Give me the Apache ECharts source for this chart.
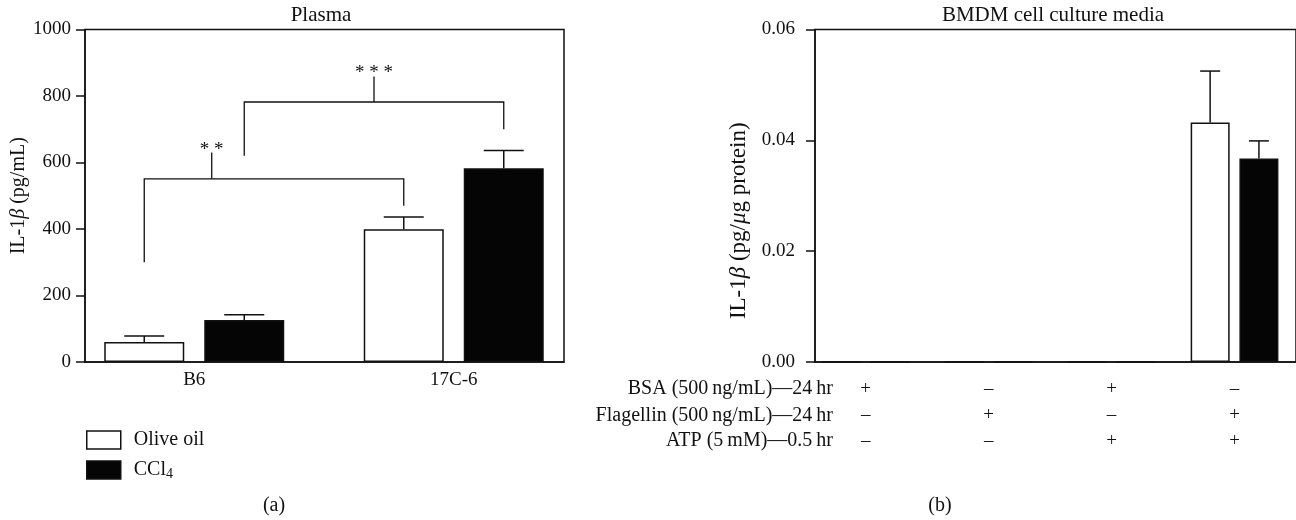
<!DOCTYPE html>
<html>
<head>
<meta charset="utf-8">
<title>IL-1β</title>
<script src="https://cdn.jsdelivr.net/npm/echarts@6/dist/echarts.min.js"></script>
<style>
  * { margin: 0; padding: 0; }
  html, body { background: #fff; }
  #chart { width: 1296px; height: 520px; }
</style>
</head>
<body>
<div id="chart"></div>
<script>
// (a) plasma
const plasmaGroups = ['B6', '17C-6'];
const plasmaOlive = [60, 399];
const plasmaOliveErr = [18, 37];
const plasmaCCl4 = [126, 583];
const plasmaCCl4Err = [16, 53];
// brackets: [fromGroup, fromSide, toGroup, toSide, leftEnd, rightEnd, level, stemTop, stemAt]
const plasmaBrackets = [
    [0, -1, 1, -1, 300, 470, 551, 630, 0.26],
    [0, 1, 1, 1, 620, 700, 782, 859, 0.5]
];
const plasmaBracketLabels = ['* *', '* * *'];

// (b) BMDM media
const mediaColumns = ['BSA', 'Flagellin', 'BSA + ATP', 'Flagellin + ATP'];
const bsaRow = ['+', '–', '+', '–'];
const flagellinRow = ['–', '+', '–', '+'];
const atpRow = ['–', '–', '+', '+'];
const rowTitles = ['BSA (500\u2009ng/mL)—24\u2009hr', 'Flagellin (500\u2009ng/mL)—24\u2009hr', 'ATP (5\u2009mM)—0.5\u2009hr'];
const mediaWhite = [0, 0, 0, 0.0432];
const mediaWhiteErr = [0, 0, 0, 0.0093];
const mediaBlack = [0, 0, 0, 0.0367];
const mediaBlackErr = [0, 0, 0, 0.0032];

const FONT = "'Liberation Serif', 'DejaVu Serif', serif";
const INK = '#111';

function errData(means, errs, side) {
    return means.map((m, i) => [i, m, m + errs[i], side]);
}

function errorBars(half, cap) {
    return function (params, api) {
        const lo = api.value(1), hi = api.value(2);
        if (hi <= lo) return null;
        const a = api.coord([api.value(0), lo]);
        const b = api.coord([api.value(0), hi]);
        const x = a[0] + api.value(3) * half;
        const st = { stroke: INK, lineWidth: 1.5 };
        return {
            type: 'group',
            children: [
                { type: 'line', shape: { x1: x, y1: a[1], x2: x, y2: b[1] }, style: st },
                { type: 'line', shape: { x1: x - cap / 2, y1: b[1], x2: x + cap / 2, y2: b[1] }, style: st }
            ]
        };
    };
}

function bracket(half) {
    return function (params, api) {
        const v = i => api.value(i);
        const pL = api.coord([v(0), v(4)]);
        const pR = api.coord([v(2), v(5)]);
        const yLev = api.coord([v(0), v(6)])[1];
        const yTop = api.coord([v(0), v(7)])[1];
        const xL = pL[0] + v(1) * half;
        const xR = pR[0] + v(3) * half;
        const xS = xL + (xR - xL) * v(8);
        const st = { stroke: INK, lineWidth: 1.3, fill: null };
        return {
            type: 'group',
            children: [
                { type: 'polyline', shape: { points: [[xL, pL[1]], [xL, yLev], [xR, yLev], [xR, pR[1]]] }, style: st },
                { type: 'line', shape: { x1: xS, y1: yLev, x2: xS, y2: yTop }, style: st },
                { type: 'text', style: { text: plasmaBracketLabels[params.dataIndex], x: xS, y: yTop - 3,
                    align: 'center', verticalAlign: 'middle', font: '19px ' + FONT, fill: INK } }
            ]
        };
    };
}

const frameAxisX = gi => ({
    gridIndex: gi, type: 'value', min: 0, max: 1,
    axisLine: { show: true, lineStyle: { color: INK, width: 1.5 } },
    axisTick: { show: false }, axisLabel: { show: false }, splitLine: { show: false }
});
const hiddenY = (gi, max) => ({ gridIndex: gi, type: 'value', min: 0, max: max, show: false });
const nameStyle = (size, pad) => ({
    fontFamily: FONT, fontSize: size, color: INK, padding: pad,
    rich: { i: { fontFamily: FONT, fontSize: size, fontStyle: 'italic', color: INK } }
});
const plainTitle = size => ({ fontFamily: FONT, fontSize: size, fontWeight: 'normal', color: INK });

let chart = echarts.init(document.getElementById('chart'));
let option = {
    backgroundColor: '#fff',
    animation: false,
    textStyle: { fontFamily: FONT, color: INK },
    title: [
        { text: 'Plasma', left: 321, top: 5, textAlign: 'center', padding: 0, textStyle: plainTitle(21) },
        { text: 'BMDM cell culture media', left: 1053, top: 5, textAlign: 'center', padding: 0, textStyle: plainTitle(21) },
        { text: '(a)', left: 274, top: 496, textAlign: 'center', padding: 0, textStyle: plainTitle(20) },
        { text: '(b)', left: 940, top: 496, textAlign: 'center', padding: 0, textStyle: plainTitle(20) }
    ],
    legend: {
        orient: 'vertical', left: 86, top: 430, padding: 0,
        icon: 'rect', itemWidth: 34, itemHeight: 18, itemGap: 10,
        data: ['Olive oil', 'CCl4'],
        itemStyle: { borderColor: INK, borderWidth: 1.5 },
        formatter: name => name === 'CCl4' ? 'CCl{sub|4}' : name,
        textStyle: {
            fontFamily: FONT, fontSize: 20, color: INK, padding: [0, 0, 0, 8],
            rich: { sub: { fontFamily: FONT, fontSize: 14, color: INK, verticalAlign: 'bottom', padding: [8, 0, 0, 0] } }
        }
    },
    grid: [
        { left: 85, top: 29.5, width: 479, height: 332.5, show: true, borderColor: INK, borderWidth: 1.5, backgroundColor: 'transparent' },
        { left: 64.5, top: 29.5, width: 519, height: 332.5 },
        { left: 815, top: 29.5, width: 520, height: 332.5, show: true, borderColor: INK, borderWidth: 1.5, backgroundColor: 'transparent' },
        { left: 804.25, top: 29.5, width: 502, height: 332.5 }
    ],
    xAxis: [
        frameAxisX(0),
        {
            gridIndex: 1, type: 'category', data: plasmaGroups,
            axisLine: { show: false }, axisTick: { show: false },
            axisLabel: { fontFamily: FONT, fontSize: 19, color: INK, margin: 9 }
        },
        frameAxisX(2),
        {
            gridIndex: 3, type: 'category', data: mediaColumns,
            axisLine: { show: false }, axisTick: { show: false },
            axisLabel: {
                interval: 0, fontFamily: FONT, fontSize: 19, color: INK, lineHeight: 26, margin: 14,
                formatter: (val, i) => bsaRow[i] + '\n' + flagellinRow[i] + '\n' + atpRow[i]
            }
        }
    ],
    yAxis: [
        {
            gridIndex: 0, type: 'value', min: 0, max: 1000, interval: 200,
            name: 'IL-1{i|β} (pg/mL)', nameLocation: 'middle', nameGap: 56, nameTextStyle: nameStyle(20, 0),
            axisLine: { show: true, lineStyle: { color: INK, width: 1.5 } },
            axisTick: { show: true, length: 9, lineStyle: { color: INK, width: 1.5 } },
            axisLabel: { fontFamily: FONT, fontSize: 19, color: INK, margin: 14, formatter: v => String(v) },
            splitLine: { show: false }
        },
        hiddenY(1, 1000),
        {
            gridIndex: 2, type: 'value', min: 0, max: 0.06, interval: 0.02,
            name: 'IL-1{i|β} (pg/{i|μ}g protein)', nameLocation: 'middle', nameGap: 65,
            nameTextStyle: nameStyle(23, [0, 50, 0, 0]),
            axisLine: { show: true, lineStyle: { color: INK, width: 1.5 } },
            axisTick: { show: true, length: 9, lineStyle: { color: INK, width: 1.5 } },
            axisLabel: { fontFamily: FONT, fontSize: 19, color: INK, margin: 20, formatter: v => v.toFixed(2) },
            splitLine: { show: false }
        },
        hiddenY(3, 0.06)
    ],
    series: [
        {
            name: 'Olive oil', type: 'bar', xAxisIndex: 1, yAxisIndex: 1,
            data: plasmaOlive, barWidth: 80, barGap: '25%',
            itemStyle: { color: '#fff', borderColor: INK, borderWidth: 1.5 }
        },
        {
            name: 'CCl4', type: 'bar', xAxisIndex: 1, yAxisIndex: 1,
            data: plasmaCCl4, barWidth: 80, barGap: '25%',
            itemStyle: { color: '#050505', borderColor: INK, borderWidth: 1.5 }
        },
        {
            type: 'custom', xAxisIndex: 1, yAxisIndex: 1, z: 3,
            renderItem: errorBars(50, 40),
            data: errData(plasmaOlive, plasmaOliveErr, -1).concat(errData(plasmaCCl4, plasmaCCl4Err, 1))
        },
        {
            type: 'custom', xAxisIndex: 1, yAxisIndex: 1, z: 3,
            renderItem: bracket(50),
            data: plasmaBrackets
        },
        {
            name: 'Olive oil', type: 'bar', xAxisIndex: 3, yAxisIndex: 3,
            data: mediaWhite, barWidth: 39, barGap: '25%',
            itemStyle: { color: '#fff', borderColor: INK, borderWidth: 1.5 }
        },
        {
            name: 'CCl4', type: 'bar', xAxisIndex: 3, yAxisIndex: 3,
            data: mediaBlack, barWidth: 39, barGap: '25%',
            itemStyle: { color: '#050505', borderColor: INK, borderWidth: 1.5 }
        },
        {
            type: 'custom', xAxisIndex: 3, yAxisIndex: 3, z: 3,
            renderItem: errorBars(24.4, 20),
            data: errData(mediaWhite, mediaWhiteErr, -1).concat(errData(mediaBlack, mediaBlackErr, 1))
        }
    ],
    graphic: rowTitles.map((t, i) => ({
        type: 'text', x: 833, y: [389, 416, 441][i],
        style: { text: t, align: 'right', verticalAlign: 'middle', font: '20px ' + FONT, fill: INK }
    }))
};
chart.setOption(option);
</script>
</body>
</html>
